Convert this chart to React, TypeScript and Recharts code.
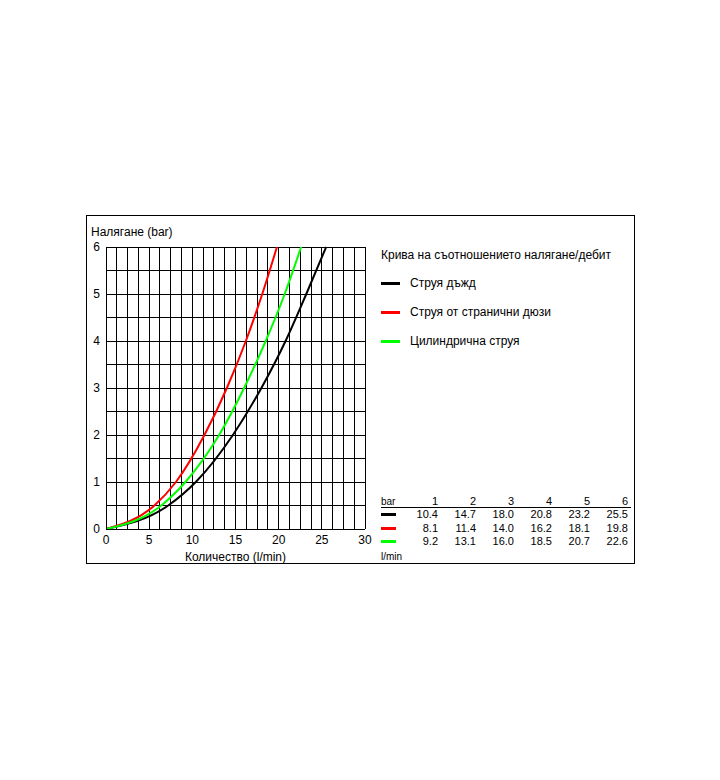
import React from 'react';
import { CartesianGrid, Line, LineChart, XAxis, YAxis } from 'recharts';

// pressure steps (bar) shown in the table
const pressures = [1, 2, 3, 4, 5, 6];

// flow (l/min) at each pressure, from the table
const rainFlow = [10.4, 14.7, 18.0, 20.8, 23.2, 25.5];
const sideJetFlow = [8.1, 11.4, 14.0, 16.2, 18.1, 19.8];
const cylinderFlow = [9.2, 13.1, 16.0, 18.5, 20.7, 22.6];

// extra low-pressure readings taken off the curves (0.5 bar)
const halfBarFlow = { rain: 7.2, side: 5.6, cylinder: 6.4 };

const seriesNames = ['Струя дъжд', 'Струя от странични дюзи', 'Цилиндрична струя'];
const seriesColors = ['#000000', '#ff0000', '#00ff00'];

const xTicks = Array.from({ length: 25 }, (_, i) => i * 1.25);
const yTicks = Array.from({ length: 13 }, (_, i) => i * 0.5);

const toPoints = (flows: number[], half: number) => [
  { q: 0, p: 0 },
  { q: half, p: 0.5 },
  ...flows.map((q, i) => ({ q, p: pressures[i] })),
];

const series = [
  toPoints(rainFlow, halfBarFlow.rain),
  toPoints(sideJetFlow, halfBarFlow.side),
  toPoints(cylinderFlow, halfBarFlow.cylinder),
];
const tableRows = [rainFlow, sideJetFlow, cylinderFlow];

const font = '"Liberation Sans", Arial, sans-serif';

const App: React.FC = () => {
  const colRight = (i: number) => 351 + i * 38;
  const rowTop = (i: number) => 292 + i * 13.5;

  return (
    <div
      style={{
        position: 'absolute',
        left: 86,
        top: 215,
        width: 547,
        height: 347,
        border: '1px solid #000',
        background: '#fff',
        fontFamily: font,
        color: '#000',
      }}
    >
      <style>{'.grid-crisp line { shape-rendering: crispEdges; }'}</style>
      <div style={{ position: 'absolute', left: 4, top: 9, fontSize: 12, lineHeight: '14px' }}>
        Налягане (bar)
      </div>

      <LineChart
        className='grid-crisp'
        width={547}
        height={347}
        margin={{ top: 31, right: 269, left: 0, bottom: 0 }}
      >
        <CartesianGrid stroke='#000' strokeWidth={1} />
        <XAxis
          type='number'
          dataKey='q'
          domain={[0, 30]}
          ticks={xTicks}
          interval={0}
          tickFormatter={(v: number) => (v % 5 === 0 ? String(v) : '')}
          tickLine={false}
          axisLine={{ stroke: '#000' }}
          tickSize={0}
          tickMargin={6}
          height={34}
          tick={{ fontSize: 12, fill: '#000', fontFamily: font }}
          label={{
            value: 'Количество (l/min)',
            position: 'insideBottom',
            offset: 2,
            style: { fontSize: 12, fill: '#000', fontFamily: font },
          }}
          allowDataOverflow
        />
        <YAxis
          type='number'
          dataKey='p'
          domain={[0, 6]}
          ticks={yTicks}
          interval={0}
          tickFormatter={(v: number) => (v % 1 === 0 ? String(v) : '')}
          tickLine={false}
          axisLine={{ stroke: '#000' }}
          tickSize={0}
          tickMargin={6}
          width={19}
          tick={{ fontSize: 12, fill: '#000', fontFamily: font }}
        />
        {series.map((d, i) => (
          <Line
            key={seriesNames[i]}
            data={d}
            dataKey='p'
            type='monotone'
            stroke={seriesColors[i]}
            strokeWidth={2}
            dot={false}
            isAnimationActive={false}
          />
        ))}
      </LineChart>

      {/* legend */}
      <div style={{ position: 'absolute', left: 294, top: 32, fontSize: 12, lineHeight: '14px' }}>
        Крива на съотношението налягане/дебит
      </div>
      {seriesNames.map((name, i) => (
        <React.Fragment key={name}>
          <div
            style={{
              position: 'absolute',
              left: 294,
              top: 66 + i * 29,
              width: 19,
              height: 3,
              background: seriesColors[i],
            }}
          />
          <div
            style={{
              position: 'absolute',
              left: 323,
              top: 60 + i * 29,
              fontSize: 12,
              lineHeight: '14px',
            }}
          >
            {name}
          </div>
        </React.Fragment>
      ))}

      {/* table */}
      <div style={{ position: 'absolute', left: 294, top: 279, fontSize: 10, lineHeight: '13px' }}>bar</div>
      {pressures.map((p, j) => (
        <div
          key={p}
          style={{
            position: 'absolute',
            left: colRight(j) - 30,
            width: 30,
            textAlign: 'right',
            top: 279,
            fontSize: 11,
            lineHeight: '13px',
          }}
        >
          {p}
        </div>
      ))}
      <div style={{ position: 'absolute', left: 294, top: 291, width: 250, height: 1, background: '#000' }} />
      {tableRows.map((row, i) => (
        <React.Fragment key={i}>
          <div
            style={{
              position: 'absolute',
              left: 294,
              top: rowTop(i) + 5,
              width: 15,
              height: 3,
              background: seriesColors[i],
            }}
          />
          {row.map((v, j) => (
            <div
              key={j}
              style={{
                position: 'absolute',
                left: colRight(j) - 30,
                width: 30,
                textAlign: 'right',
                top: rowTop(i),
                fontSize: 11,
                lineHeight: '13px',
              }}
            >
              {v.toFixed(1)}
            </div>
          ))}
        </React.Fragment>
      ))}
      <div style={{ position: 'absolute', left: 294, top: 334, fontSize: 10, lineHeight: '13px' }}>l/min</div>
    </div>
  );
};

export default App;
